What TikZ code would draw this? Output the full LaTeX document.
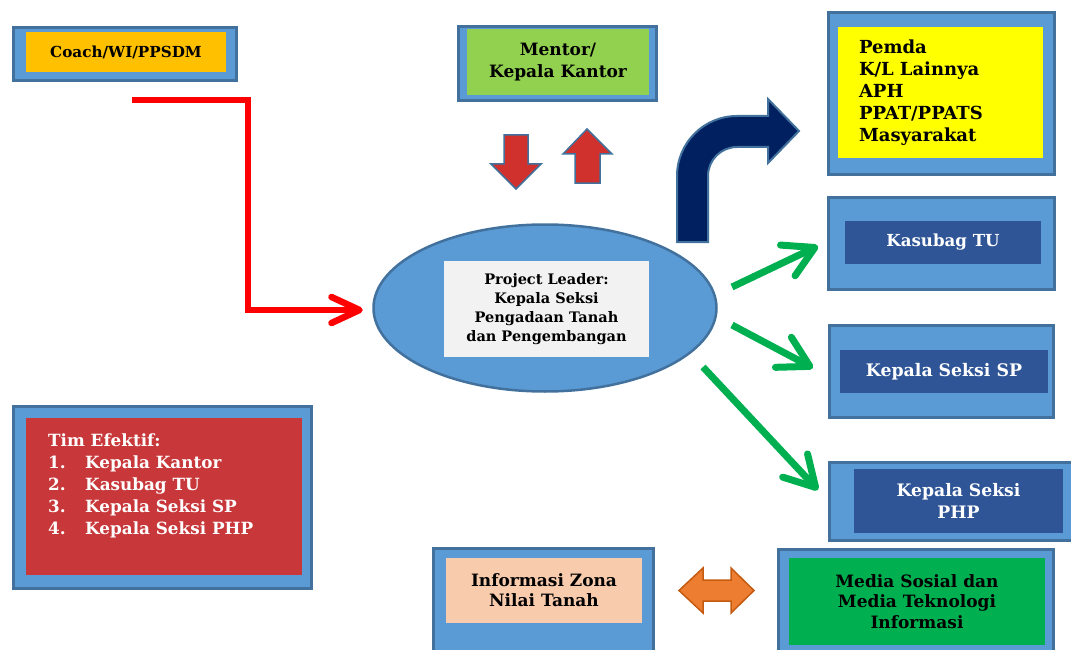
\documentclass[tikz,border=0pt]{standalone}
\usepackage{fontspec}
\setmainfont{DejaVu Serif}
\usetikzlibrary{shapes.geometric,arrows.meta,calc}
\definecolor{bordc}{HTML}{41719C}
\definecolor{boxc}{HTML}{5B9BD5}
\definecolor{orangec}{HTML}{FFC000}
\definecolor{lgreen}{HTML}{92D050}
\definecolor{yellowc}{HTML}{FFFF00}
\definecolor{navybox}{HTML}{2F5597}
\definecolor{redbox}{HTML}{C8373A}
\definecolor{peach}{HTML}{F8CBAD}
\definecolor{mgreen}{HTML}{00B050}
\definecolor{ellin}{HTML}{F2F2F2}
\definecolor{redline}{HTML}{FF0000}
\definecolor{redarrow}{HTML}{D0312D}
\definecolor{navyarrow}{HTML}{002060}
\definecolor{orangearrow}{HTML}{ED7D31}
\definecolor{orangebord}{HTML}{C55A11}
\newcommand{\fs}[2]{\bfseries\fontsize{#1}{#2}\selectfont}
\begin{document}
\begin{tikzpicture}[x=1pt,y=-1pt,
  outerbox/.style={draw=bordc, line width=2.5pt, fill=boxc, inner sep=0pt, outer sep=0pt},
  innerbox/.style={inner sep=0pt, outer sep=0pt, align=center, font=\fs{17}{22}},
  blockarrow/.style={line width=1.5pt, line join=miter},
  grnarrow/.style={draw=mgreen, line width=7pt, -{Straight Barb[length=30pt,width=34pt,round]}},
]
\useasboundingbox (0,0) rectangle (1071,650);
\clip (0,0) rectangle (1071,650);

% Coach
\node[outerbox, minimum width=223pt, minimum height=53pt] (coachout) at (125,54) {};
\node[innerbox, fill=orangec, minimum width=200pt, minimum height=40pt, font=\fs{15.2}{22}] (coach) at (126,52) {Coach/WI/PPSDM};

% Mentor
\node[outerbox, minimum width=198pt, minimum height=74pt] (mentorout) at (557.5,63.5) {};
\node[innerbox, fill=lgreen, minimum width=182pt, minimum height=66pt] (mentor) at (558,62) {Mentor/\\Kepala Kantor};

% Pemda
\node[outerbox, minimum width=226pt, minimum height=162pt] (pemdaout) at (941.5,93.5) {};
\node[innerbox, fill=yellowc, minimum width=205pt, minimum height=131pt, align=left, text width=163pt, inner xsep=21pt, font=\fs{18}{22}] (pemda) at (940.5,92.5) {Pemda\\K/L Lainnya\\APH\\PPAT/PPATS\\Masyarakat};

% Kasubag TU
\node[outerbox, minimum width=226pt, minimum height=92pt] (kasout) at (941.5,243.5) {};
\node[innerbox, fill=navybox, text=white, minimum width=196pt, minimum height=43pt, font=\fs{16.6}{22}] (kas) at (943,242.5) {Kasubag TU};

% Kepala Seksi SP
\node[outerbox, minimum width=224pt, minimum height=92pt] (spout) at (941.5,371.5) {};
\node[innerbox, fill=navybox, text=white, minimum width=208pt, minimum height=43pt, font=\fs{17.3}{22}] (sp) at (944,371.5) {Kepala Seksi SP};

% Kepala Seksi PHP
\node[outerbox, minimum width=245pt, minimum height=78pt] (phpout) at (952,501.5) {};
\node[innerbox, fill=navybox, text=white, minimum width=209pt, minimum height=64pt, font=\fs{17.2}{22}] (php) at (958.5,501) {Kepala Seksi\\PHP};

% Tim Efektif
\node[outerbox, minimum width=298pt, minimum height=182pt] (timout) at (162.5,497.5) {};
\node[inner sep=0pt, fill=redbox, minimum width=276pt, minimum height=157pt] (tim) at (164,496.5) {};
\node[anchor=north west, inner sep=0pt, align=left, text=white, font=\fs{16.8}{22}] (timtext) at (48,434)
  {Tim Efektif:\\\makebox[37pt][l]{1.}Kepala Kantor\\\makebox[37pt][l]{2.}Kasubag TU\\\makebox[37pt][l]{3.}Kepala Seksi SP\\\makebox[37pt][l]{4.}Kepala Seksi PHP};

% Informasi Zona
\node[outerbox, minimum width=220pt, minimum height=130pt] (infoout) at (543.5,613.5) {};
\node[innerbox, fill=peach, minimum width=196pt, minimum height=65pt, font=\fs{17}{20}] (info) at (544,590.5) {Informasi Zona\\Nilai Tanah};

% Media
\node[outerbox, minimum width=275pt, minimum height=129pt] (mediaout) at (916,614) {};
\node[innerbox, fill=mgreen, minimum width=256pt, minimum height=87pt, font=\fs{17}{20.5}] (media) at (917,601.5) {Media Sosial dan\\Media Teknologi\\Informasi};

% Ellipse
\node[ellipse, draw=bordc, line width=2.5pt, fill=boxc, minimum width=343pt, minimum height=167pt, inner sep=0pt] (ell) at (545,308) {};
\node[innerbox, fill=ellin, minimum width=205pt, minimum height=96pt, font=\fs{14.5}{19}] (pl) at (546.5,309) {Project Leader:\\Kepala Seksi\\Pengadaan Tanah\\dan Pengembangan};

% Red connector
\coordinate (rs) at (132,100);
\draw[draw=redline, line width=6.5pt, line join=miter, -{Straight Barb[length=28pt,width=26pt,round]}]
  (rs) -- (248,100) |- ($(ell.west)+(-9.5,2)$);

% Red block arrows
\draw[blockarrow, draw=bordc, fill=redarrow] (504,135) -- (528,135) -- (528,164) -- (541,164) -- (516,189) -- (491,164) -- (504,164) -- cycle;
\draw[blockarrow, draw=bordc, fill=redarrow] (575,183) -- (600,183) -- (600,154) -- (612,154) -- (587,129) -- (563,154) -- (575,154) -- cycle;

% Bent navy arrow
\draw[line width=2pt, line join=miter, draw=bordc, fill=navyarrow]
  (677,242) -- (677,176) .. controls (677,142.9) and (703.9,116) .. (737,116)
  -- (768,116) -- (768,99) -- (799,131) -- (768,163) -- (768,147) -- (737,147)
  .. controls (721,147) and (708,160) .. (708,176) -- (708,242) -- cycle;

% Green arrows
\coordinate (g1) at (732,287);
\coordinate (g2) at (732,325);
\coordinate (g3) at (703,367);
\draw[grnarrow] (g1) -- ($(kas.west)+(-27,3.5)$);
\draw[grnarrow] (g2) -- ($(sp.west)+(-27,-3.5)$);
\draw[grnarrow] (g3) -- ($(php.west)+(-36,-11)$);

% Orange double arrow
\draw[blockarrow, draw=orangebord, fill=orangearrow]
  (679,590.5) -- (703,568) -- (703,580) -- (731,580) -- (731,568) -- (754,590.5)
  -- (731,613) -- (731,601) -- (703,601) -- (703,613) -- cycle;
\end{tikzpicture}
\end{document}
